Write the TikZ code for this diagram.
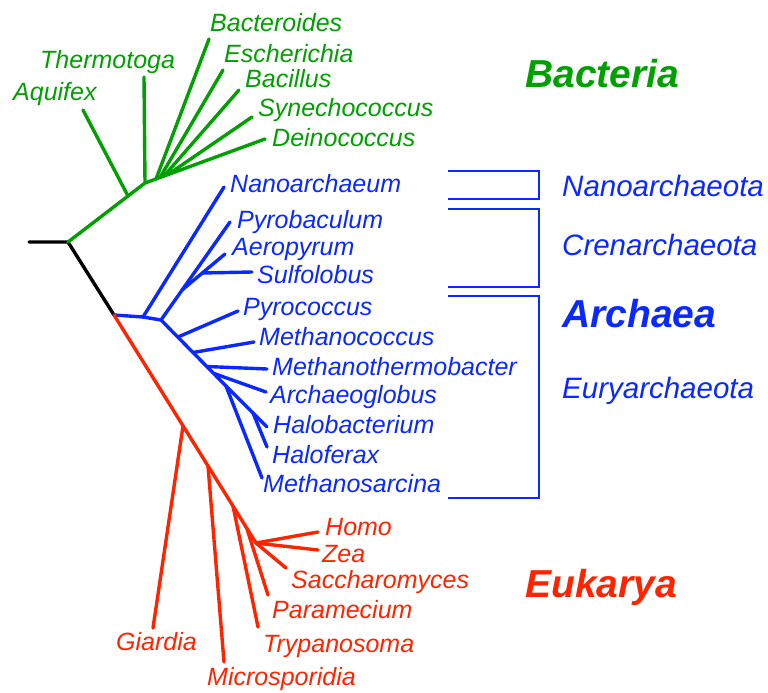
\documentclass[tikz,border=0pt]{standalone}
\usepackage{fontspec}
\setmainfont{Liberation Sans}
\definecolor{bgreen}{RGB}{0,160,0}
\definecolor{ablue}{RGB}{10,40,255}
\definecolor{ered}{RGB}{255,36,0}
\begin{document}
\begin{tikzpicture}[x=1pt,y=-1pt,
  br/.style={line width=3.4pt,line cap=round,line join=round},
  lab/.style={anchor=base west,inner sep=0pt,font=\fontsize{25}{30}\selectfont\itshape},
  grp/.style={anchor=base west,inner sep=0pt,font=\fontsize{29.5}{35}\selectfont\itshape,text=ablue},
  dom/.style={anchor=base west,inner sep=0pt,font=\fontsize{39}{46}\selectfont\bfseries\itshape},
  brk/.style={line width=1.6pt,ablue}]
\useasboundingbox (0,0) rectangle (768,693);

% ---------- coordinates ----------
\coordinate (rootL) at (29,242);
\coordinate (root) at (68,242);
\coordinate (arch) at (114,315);
% bacteria
\coordinate (g1) at (128,196);
\coordinate (g2) at (145,183);
\coordinate (aqE) at (83,110);
\coordinate (thE) at (144,77);
\coordinate (deE) at (265,139);
\coordinate (gbd) at (156,179);
\coordinate (ges) at (160,177.5);
\coordinate (gba) at (164,176);
\coordinate (gsy) at (168,174.5);
\coordinate (bdE) at (209,39);
\coordinate (esE) at (223,70);
\coordinate (baE) at (239,90);
\coordinate (syE) at (252,117);
% archaea
\coordinate (b1) at (143,317);
\coordinate (b2) at (161,320);
\coordinate (naE) at (224,187);
\coordinate (pbE) at (230,222);
\coordinate (a1) at (182,290);
\coordinate (aeE) at (225,254);
\coordinate (s1) at (202,273);
\coordinate (suE) at (252,272);
\coordinate (e1) at (178,337);
\coordinate (pyE) at (238,311);
\coordinate (e2) at (193,352.5);
\coordinate (mcE) at (254,342);
\coordinate (e3) at (207,366.5);
\coordinate (mtE) at (267,369);
\coordinate (e4) at (214,373.5);
\coordinate (agE) at (266,392);
\coordinate (e5) at (226,386);
\coordinate (msE) at (262,478);
\coordinate (h1) at (253,413);
\coordinate (hbE) at (267,427);
\coordinate (hfE) at (267,447);
% eukarya
\coordinate (rg) at (183,426);
\coordinate (rm) at (208,466);
\coordinate (rt) at (233,506);
\coordinate (rp) at (247,529);
\coordinate (rc) at (256,543);
\coordinate (giE) at (153,628);
\coordinate (miE) at (224,662);
\coordinate (trE) at (258,627);
\coordinate (paE) at (268,595);
\coordinate (hoE) at (318,532);
\coordinate (zeE) at (318,550);
\coordinate (saE) at (286,568);
% brackets
\coordinate (n1) at (448,171); \coordinate (n2) at (539,171);
\coordinate (n3) at (539,199); \coordinate (n4) at (448,199);
\coordinate (c1) at (448,209); \coordinate (c2) at (539,209);
\coordinate (c3) at (539,287); \coordinate (c4) at (448,287);
\coordinate (u1) at (448,296); \coordinate (u2) at (539,296);
\coordinate (u3) at (539,498); \coordinate (u4) at (448,498);

% ---------- branches ----------
\draw[br,black] (rootL) -- (root) -- (arch);
\draw[br,bgreen] (root) -- (g1) -- (g2) -- (deE);
\draw[br,bgreen] (g1) -- (aqE);
\draw[br,bgreen] (g2) -- (thE);
\draw[br,bgreen] (gbd) -- (bdE);
\draw[br,bgreen] (ges) -- (esE);
\draw[br,bgreen] (gba) -- (baE);
\draw[br,bgreen] (gsy) -- (syE);

\draw[br,ablue] (arch) -- (b1) -- (b2) -- (e5) -- (msE);
\draw[br,ablue] (b1) -- (naE);
\draw[br,ablue] (b2) -- (pbE);
\draw[br,ablue] (a1) -- (aeE);
\draw[br,ablue] (s1) -- (suE);
\draw[br,ablue] (e1) -- (pyE);
\draw[br,ablue] (e2) -- (mcE);
\draw[br,ablue] (e3) -- (mtE);
\draw[br,ablue] (e4) -- (agE);
\draw[br,ablue] (e5) -- (hbE);
\draw[br,ablue] (h1) -- (hfE);

\draw[br,ered] (arch) -- (rc) -- (hoE);
\draw[br,ered] (rc) -- (zeE);
\draw[br,ered] (rc) -- (saE);
\draw[br,ered] (rg) -- (giE);
\draw[br,ered] (rm) -- (miE);
\draw[br,ered] (rt) -- (trE);
\draw[br,ered] (rp) -- (paE);

\draw[brk] (n1) -- (n2) -- (n3) -- (n4);
\draw[brk] (c1) -- (c2) -- (c3) -- (c4);
\draw[brk] (u1) -- (u2) -- (u3) -- (u4);

% ---------- labels ----------
\begin{scope}[every node/.append style={text=bgreen}]
\node[lab] (tBd) at (210,32) {Bacteroides};
\node[lab] (tTh) at (40,68) {Thermotoga};
\node[lab] (tAq) at (13,100) {Aquifex};
\node[lab] (tEs) at (224,63) {Escherichia};
\node[lab] (tBa) at (245,88) {Bacillus};
\node[lab] (tSy) at (258,116) {Synechococcus};
\node[lab] (tDe) at (272,146) {Deinococcus};
\node[dom] (tBact) at (525,87) {Bacteria};
\end{scope}
\begin{scope}[every node/.append style={text=ablue}]
\node[lab] (tNa) at (230,192) {Nanoarchaeum};
\node[lab] (tPb) at (237,228) {Pyrobaculum};
\node[lab] (tAe) at (232,255) {Aeropyrum};
\node[lab] (tSu) at (257,283) {Sulfolobus};
\node[lab] (tPy) at (243,315) {Pyrococcus};
\node[lab] (tMc) at (259,345) {Methanococcus};
\node[lab] (tMt) at (272,375) {Methanothermobacter};
\node[lab] (tAg) at (270,403) {Archaeoglobus};
\node[lab] (tHb) at (273,433) {Halobacterium};
\node[lab] (tHf) at (272,463) {Haloferax};
\node[lab] (tMs) at (263,492) {Methanosarcina};
\node[dom] (tArch) at (562,327) {Archaea};
\end{scope}
\node[grp] (tNano) at (562,196) {Nanoarchaeota};
\node[grp] (tCren) at (562,255) {Crenarchaeota};
\node[grp] (tEury) at (562,398) {Euryarchaeota};
\begin{scope}[every node/.append style={text=ered}]
\node[lab] (tHo) at (325,535) {Homo};
\node[lab] (tZe) at (322,562) {Zea};
\node[lab] (tSa) at (291,588) {Saccharomyces};
\node[lab] (tPa) at (272,618) {Paramecium};
\node[lab] (tTr) at (263,652) {Trypanosoma};
\node[lab] (tGi) at (116,650) {Giardia};
\node[lab] (tMi) at (207,685) {Microsporidia};
\node[dom] (tEuk) at (525,597) {Eukarya};
\end{scope}
\end{tikzpicture}
\end{document}
